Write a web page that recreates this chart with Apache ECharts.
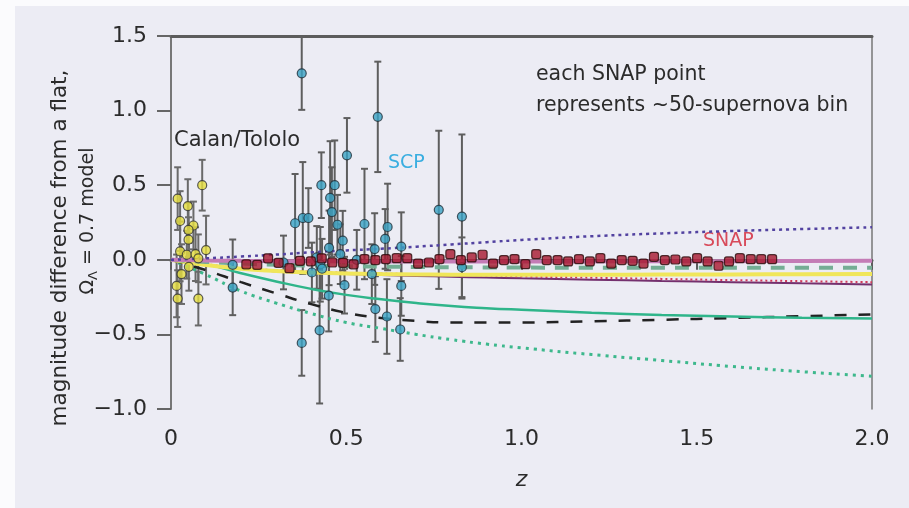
<!DOCTYPE html>
<html><head><meta charset="utf-8">
<script src="https://cdn.jsdelivr.net/npm/echarts@6/dist/echarts.min.js"></script>
<style>html,body{margin:0;padding:0;background:#fff}#c{width:909px;height:508px}</style>
</head><body><div id="c"></div>
<script>
// ---- tick labels ----
const xTickLabels = ['0', '0.5', '1.0', '1.5', '2.0'];
const yTickLabels = ['\u22121.0', '\u22120.5', '0.0', '0.5', '1.0', '1.5'];

// ---- Calan/Tololo supernovae ----
const ctZ   = [0.089, 0.019, 0.048, 0.026, 0.064, 0.050, 0.050, 0.026, 0.045, 0.070, 0.078, 0.100, 0.051, 0.030, 0.016, 0.019, 0.078];
const ctMag = [0.50, 0.41, 0.36, 0.26, 0.23, 0.20, 0.135, 0.056, 0.034, 0.038, 0.010, 0.065, -0.047, -0.096, -0.175, -0.26, -0.26];
const ctErr = [0.17, 0.21, 0.18, 0.20, 0.16, 0.18, 0.15, 0.20, 0.16, 0.18, 0.16, 0.23, 0.16, 0.20, 0.21, 0.19, 0.18];

// ---- SCP supernovae ----
const scpZ   = [0.176, 0.176, 0.321, 0.354, 0.373, 0.373, 0.376, 0.392, 0.402, 0.416, 0.424, 0.426, 0.429, 0.431, 0.450, 0.451, 0.454, 0.459, 0.467, 0.475, 0.483, 0.490, 0.495, 0.502, 0.530, 0.552, 0.573, 0.581, 0.583, 0.590, 0.611, 0.616, 0.618, 0.654, 0.657, 0.657, 0.764, 0.830, 0.830];
const scpMag = [-0.034, -0.186, -0.018, 0.245, 1.25, -0.557, 0.28, 0.28, -0.085, 0.016, -0.473, -0.03, 0.50, -0.06, -0.24, 0.08, 0.415, 0.32, 0.50, 0.235, 0.038, 0.128, -0.17, 0.70, 0.0, 0.24, -0.096, 0.072, -0.33, 0.958, 0.14, -0.38, 0.22, -0.467, 0.088, -0.175, 0.335, 0.29, -0.05];
const scpErr = [0.17, 0.185, 0.18, 0.33, 0.245, 0.22, 0.375, 0.20, 0.20, 0.21, 0.49, 0.25, 0.22, 0.20, 0.24, 0.25, 0.38, 0.30, 0.30, 0.20, 0.20, 0.20, 0.19, 0.25, 0.20, 0.37, 0.20, 0.24, 0.22, 0.37, 0.20, 0.25, 0.29, 0.21, 0.23, 0.20, 0.53, 0.55, 0.20];

// ---- SNAP binned points ----
const snapZ   = [0.215, 0.246, 0.277, 0.307, 0.338, 0.368, 0.399, 0.430, 0.460, 0.491, 0.521, 0.552, 0.583, 0.613, 0.644, 0.674, 0.705, 0.736, 0.766, 0.797, 0.827, 0.858, 0.889, 0.919, 0.950, 0.980, 1.011, 1.042, 1.072, 1.103, 1.133, 1.164, 1.195, 1.225, 1.256, 1.286, 1.317, 1.348, 1.378, 1.409, 1.439, 1.470, 1.501, 1.531, 1.562, 1.592, 1.623, 1.654, 1.684, 1.715];
const snapMag = [-0.030, -0.034, 0.010, -0.020, -0.056, -0.007, -0.010, 0.010, -0.018, -0.020, -0.030, 0.005, -0.002, 0.005, 0.011, 0.011, -0.025, -0.018, 0.005, 0.038, -0.002, 0.016, 0.034, -0.025, -0.002, 0.005, -0.029, 0.038, -0.002, -0.002, -0.011, 0.004, -0.011, 0.011, -0.025, -0.002, -0.007, -0.025, 0.020, -0.002, 0.002, -0.011, 0.011, -0.011, -0.040, -0.011, 0.011, 0.004, 0.004, 0.004];

// ---- model curves ----
const modelZ        = [0, 0.1, 0.2, 0.3, 0.4, 0.5, 0.6, 0.7, 0.8, 0.9, 1.0, 1.2, 1.4, 1.6, 1.8, 2.0];
const purpleDotted  = [0, 0.010, 0.022, 0.035, 0.050, 0.063, 0.074, 0.088, 0.103, 0.118, 0.133, 0.158, 0.177, 0.193, 0.206, 0.218];
const magentaSolid  = [0, -0.004, -0.007, -0.009, -0.010, -0.011, -0.012, -0.012, -0.012, -0.012, -0.012, -0.011, -0.010, -0.009, -0.008, -0.007];
const greenDashed   = [0, -0.014, -0.025, -0.033, -0.039, -0.043, -0.046, -0.048, -0.050, -0.051, -0.052, -0.053, -0.053, -0.053, -0.053, -0.053];
const yellowSolid   = [0, -0.035, -0.060, -0.075, -0.085, -0.092, -0.096, -0.098, -0.100, -0.100, -0.100, -0.100, -0.099, -0.098, -0.097, -0.096];
const redDotted     = [0, -0.030, -0.055, -0.070, -0.080, -0.087, -0.092, -0.097, -0.102, -0.107, -0.112, -0.120, -0.128, -0.136, -0.143, -0.150];
const purpleSolid   = [0, -0.035, -0.060, -0.077, -0.088, -0.096, -0.102, -0.108, -0.114, -0.119, -0.124, -0.133, -0.142, -0.150, -0.158, -0.165];
const greenSolid    = [0, -0.030, -0.090, -0.145, -0.195, -0.235, -0.265, -0.290, -0.310, -0.324, -0.335, -0.355, -0.370, -0.380, -0.388, -0.393];
const blackDashed   = [0, -0.070, -0.150, -0.225, -0.297, -0.355, -0.390, -0.410, -0.420, -0.420, -0.420, -0.412, -0.402, -0.390, -0.378, -0.366];
const greenDotted   = [0, -0.100, -0.210, -0.290, -0.360, -0.420, -0.460, -0.500, -0.535, -0.565, -0.590, -0.635, -0.675, -0.715, -0.750, -0.780];

const zip = (a, b) => a.map((v, i) => [v, b[i]]);
const zip3 = (a, b, c) => a.map((v, i) => [v, b[i], c[i]]);

function errRender(color, width, capHalf) {
  return function (params, api) {
    const z = api.value(0), v = api.value(1), e = api.value(2);
    const t = api.coord([z, v + e]), b = api.coord([z, v - e]);
    const style = { stroke: color, lineWidth: width };
    return { type: 'group', children: [
      { type: 'line', shape: { x1: t[0], y1: t[1], x2: b[0], y2: b[1] }, style },
      { type: 'line', shape: { x1: t[0] - capHalf, y1: t[1], x2: t[0] + capHalf, y2: t[1] }, style },
      { type: 'line', shape: { x1: b[0] - capHalf, y1: b[1], x2: b[0] + capHalf, y2: b[1] }, style }
    ]};
  };
}

function curve(name, vals, color, width, type, z) {
  return { name, type: 'line', data: zip(modelZ, vals), smooth: true, showSymbol: false, silent: true, z: z || 3,
    lineStyle: { color, width, type, cap: 'butt' } };
}

const FONT = "'DejaVu Sans', Verdana, sans-serif";
const TXT = '#2b2b2b';
const chart = echarts.init(document.getElementById('c'), null, { renderer: 'canvas' });
chart.setOption({
  backgroundColor: '#ececf4',
  animation: false,
  grid: { left: 171, right: 37, top: 36, bottom: 99 },
  xAxis: [{
    type: 'value', min: 0, max: 2, interval: 0.5, position: 'bottom',
    axisLine: { show: true, lineStyle: { color: '#5c5c5c', width: 3 } },
    axisTick: { show: true, inside: false, length: 10, lineStyle: { color: '#5c5c5c', width: 2 } },
    axisLabel: { margin: 19, color: TXT, fontSize: 22, fontFamily: FONT,
      formatter: v => xTickLabels[Math.round(v / 0.5)] },
    splitLine: { show: false },
    name: 'z', nameLocation: 'middle', nameGap: 60,
    nameTextStyle: { color: TXT, fontSize: 22, fontFamily: FONT, fontStyle: 'italic' }
  }, {
    type: 'value', min: 0, max: 2, position: 'top',
    axisLine: { show: true, onZero: false, lineStyle: { color: '#5c5c5c', width: 3 } },
    axisTick: { show: false }, axisLabel: { show: false }, splitLine: { show: false }
  }],
  yAxis: [{
    type: 'value', min: -1, max: 1.5, interval: 0.5,
    axisLine: { show: true, onZero: false, lineStyle: { color: '#777', width: 2 } },
    axisTick: { show: true, inside: false, length: 14, lineStyle: { color: '#666', width: 2 } },
    axisLabel: { margin: 24, color: TXT, fontSize: 22, fontFamily: FONT,
      formatter: v => yTickLabels[Math.round((v + 1) / 0.5)] },
    splitLine: { show: false }
  }, {
    type: 'value', min: -1, max: 1.5, position: 'right',
    axisLine: { show: true, onZero: false, lineStyle: { color: '#777', width: 1.5 } },
    axisTick: { show: false }, axisLabel: { show: false }, splitLine: { show: false }
  }],
  graphic: [
    { type: 'rect', shape: { x: 0, y: 0, width: 909, height: 6 }, style: { fill: '#fbfbfd' }, silent: true },
    { type: 'rect', shape: { x: 0, y: 0, width: 15, height: 508 }, style: { fill: '#fbfbfd' }, silent: true },
    { type: 'text', left: 174, top: 130, style: { text: 'Calan/Tololo', fill: TXT, font: "21px " + FONT } },
    { type: 'text', left: 388, top: 154, style: { text: 'SCP', fill: '#3aaee0', font: "19px " + FONT } },
    { type: 'text', left: 703, top: 232, style: { text: 'SNAP', fill: '#d84a5a', font: "19px " + FONT } },
    { type: 'text', left: 536, top: 64, style: { text: 'each SNAP point', fill: TXT, font: "20.5px " + FONT } },
    { type: 'text', left: 536, top: 95, style: { text: 'represents ~50-supernova bin', fill: TXT, font: "20.5px " + FONT } },
    { type: 'text', x: 60, y: 248, rotation: Math.PI / 2,
      style: { text: 'magnitude difference from a flat,', fill: TXT, font: "21.5px " + FONT, textAlign: 'center', textVerticalAlign: 'middle' } },
    { type: 'text', x: 88, y: 221, rotation: Math.PI / 2,
      style: { text: '{a|\u03A9}{s|\u039B}{a| = 0.7 model}', textAlign: 'center', textVerticalAlign: 'middle',
        rich: { a: { fill: TXT, fontSize: 19, fontFamily: FONT, lineHeight: 24 },
                s: { fill: TXT, fontSize: 13, fontFamily: FONT, lineHeight: 24, padding: [12, 0, 0, 0] } } } }
  ],
  series: [
    { name: 'CT err', type: 'custom', renderItem: errRender('#6a6a6a', 2, 3.5), data: zip3(ctZ, ctMag, ctErr), z: 1, silent: true },
    { name: 'SCP err', type: 'custom', renderItem: errRender('#5e5e5e', 2, 3.5), data: zip3(scpZ, scpMag, scpErr), z: 1, silent: true },
    curve('green dotted', greenDotted, '#3db88c', 3, [3, 5]),
    curve('black dashed', blackDashed, '#222', 2.5, [12, 12]),
    curve('green solid', greenSolid, '#2fb58a', 2.5, 'solid'),
    curve('purple solid', purpleSolid, '#74306e', 2, 'solid'),
    curve('red dotted', redDotted, '#d23a5a', 2, [2, 3]),
    curve('yellow', yellowSolid, '#f0e65a', 4, 'solid'),
    curve('green dashed', greenDashed, '#74ad94', 4, [14, 10]),
    curve('magenta', magentaSolid, '#c47cb6', 4, 'solid'),
    curve('purple dotted', purpleDotted, '#5242a0', 2.5, [3, 4]),
    { name: 'Calan/Tololo', type: 'scatter', data: zip(ctZ, ctMag), symbol: 'circle', symbolSize: 9, z: 5,
      itemStyle: { color: '#e6de3e', borderColor: '#333', borderWidth: 1.2 } },
    { name: 'SCP', type: 'scatter', data: zip(scpZ, scpMag), symbol: 'circle', symbolSize: 9, z: 5,
      itemStyle: { color: '#3aa2c4', borderColor: '#1f2f3a', borderWidth: 1.2 } },
    { name: 'SNAP', type: 'scatter', data: zip(snapZ, snapMag), symbol: 'roundRect', symbolSize: 9, z: 6,
      itemStyle: { color: '#a8182e', borderColor: '#2a0a0a', borderWidth: 1.2 } }
  ]
});
</script></body></html>
